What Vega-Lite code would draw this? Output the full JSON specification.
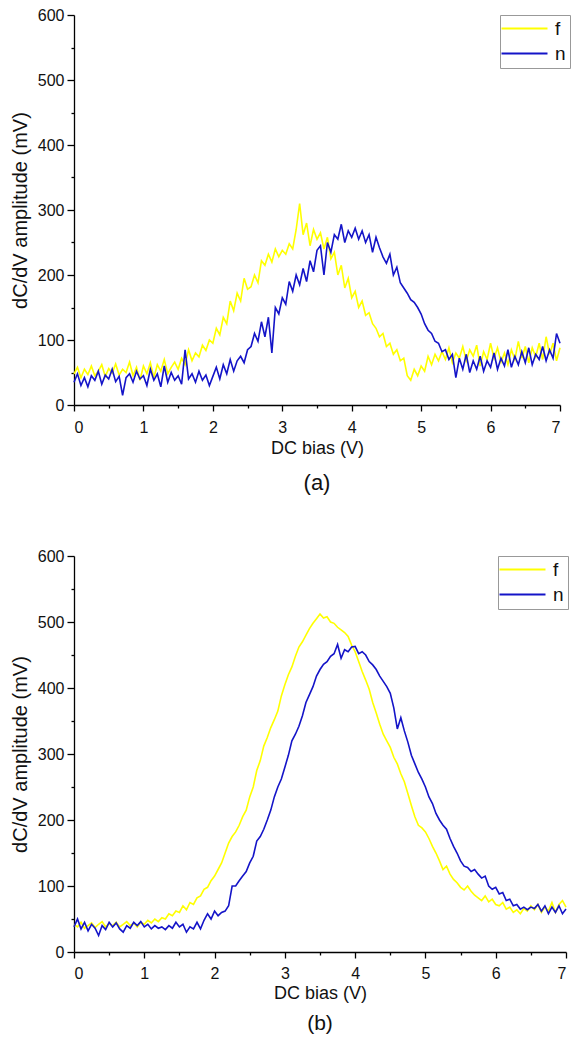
{
  "$schema": "https://vega.github.io/schema/vega-lite/v6.json",
  "padding": {"left": 10, "top": 7, "right": 0, "bottom": 0},
  "spacing": 54,
  "resolve": {"scale": {"color": "independent"}, "legend": {"color": "independent"}},
  "config": {
    "font": "Liberation Sans",
    "view": {"stroke": null},
    "axis": {
      "grid": false,
      "domainColor": "#000000",
      "domainWidth": 1.3,
      "tickColor": "#000000",
      "tickWidth": 1.3,
      "labelColor": "#111111",
      "labelFontSize": 16,
      "titleFontSize": 18,
      "titleFontWeight": "normal",
      "titleColor": "#111111"
    },
    "axisLeft": {"titleFontSize": 20},
    "title": {"fontSize": 22, "fontWeight": "normal", "color": "#111111"},
    "legend": {
      "orient": "none",
      "legendY": 0,
      "strokeColor": "#999999",
      "fillColor": "#ffffff",
      "padding": 4,
      "symbolType": "M-3,0H3",
      "symbolSize": 235,
      "symbolStrokeWidth": 2,
      "symbolOffset": 11,
      "labelOffset": 21,
      "labelFontSize": 19,
      "labelColor": "#111111",
      "rowPadding": 5
    }
  },
  "datasets": {
    "a": [
      {"v":0.00,"f":48,"n":35},{"v":0.05,"f":58,"n":48},{"v":0.10,"f":42,"n":30},{"v":0.15,"f":55,"n":42},{"v":0.20,"f":47,"n":28},
      {"v":0.25,"f":60,"n":45},{"v":0.30,"f":45,"n":38},{"v":0.35,"f":52,"n":52},{"v":0.40,"f":62,"n":32},{"v":0.45,"f":44,"n":46},
      {"v":0.50,"f":56,"n":40},{"v":0.55,"f":49,"n":55},{"v":0.60,"f":63,"n":36},{"v":0.65,"f":46,"n":44},{"v":0.70,"f":55,"n":15},
      {"v":0.75,"f":50,"n":42},{"v":0.80,"f":66,"n":48},{"v":0.85,"f":45,"n":35},{"v":0.90,"f":58,"n":52},{"v":0.95,"f":38,"n":40},
      {"v":1.00,"f":60,"n":45},{"v":1.05,"f":48,"n":30},{"v":1.10,"f":65,"n":55},{"v":1.15,"f":42,"n":38},{"v":1.20,"f":62,"n":48},
      {"v":1.25,"f":52,"n":28},{"v":1.30,"f":70,"n":60},{"v":1.35,"f":48,"n":35},{"v":1.40,"f":58,"n":50},{"v":1.45,"f":66,"n":38},
      {"v":1.50,"f":55,"n":45},{"v":1.55,"f":72,"n":32},{"v":1.60,"f":62,"n":85},{"v":1.65,"f":85,"n":40},{"v":1.70,"f":68,"n":48},
      {"v":1.75,"f":80,"n":35},{"v":1.80,"f":74,"n":52},{"v":1.85,"f":92,"n":38},{"v":1.90,"f":84,"n":46},{"v":1.95,"f":100,"n":30},
      {"v":2.00,"f":95,"n":44},{"v":2.05,"f":118,"n":58},{"v":2.10,"f":108,"n":40},{"v":2.15,"f":135,"n":62},{"v":2.20,"f":125,"n":48},
      {"v":2.25,"f":160,"n":70},{"v":2.30,"f":145,"n":52},{"v":2.35,"f":172,"n":68},{"v":2.40,"f":160,"n":75},{"v":2.45,"f":195,"n":65},
      {"v":2.50,"f":178,"n":85},{"v":2.55,"f":182,"n":90},{"v":2.60,"f":200,"n":110},{"v":2.65,"f":188,"n":98},{"v":2.70,"f":222,"n":128},
      {"v":2.75,"f":215,"n":105},{"v":2.80,"f":232,"n":135},{"v":2.85,"f":220,"n":80},{"v":2.90,"f":240,"n":150},{"v":2.95,"f":228,"n":140},
      {"v":3.00,"f":238,"n":165},{"v":3.05,"f":232,"n":155},{"v":3.10,"f":248,"n":190},{"v":3.15,"f":240,"n":175},{"v":3.20,"f":270,"n":200},
      {"v":3.25,"f":310,"n":185},{"v":3.30,"f":262,"n":210},{"v":3.35,"f":280,"n":190},{"v":3.40,"f":245,"n":222},{"v":3.45,"f":270,"n":205},
      {"v":3.50,"f":255,"n":238},{"v":3.55,"f":265,"n":245},{"v":3.60,"f":240,"n":200},{"v":3.65,"f":258,"n":250},{"v":3.70,"f":225,"n":235},
      {"v":3.75,"f":235,"n":262},{"v":3.80,"f":200,"n":255},{"v":3.85,"f":215,"n":278},{"v":3.90,"f":180,"n":250},{"v":3.95,"f":195,"n":268},
      {"v":4.00,"f":165,"n":258},{"v":4.05,"f":175,"n":272},{"v":4.10,"f":150,"n":255},{"v":4.15,"f":160,"n":268},{"v":4.20,"f":138,"n":250},
      {"v":4.25,"f":142,"n":262},{"v":4.30,"f":125,"n":235},{"v":4.35,"f":118,"n":258},{"v":4.40,"f":105,"n":242},{"v":4.45,"f":110,"n":228},
      {"v":4.50,"f":90,"n":218},{"v":4.55,"f":95,"n":232},{"v":4.60,"f":78,"n":200},{"v":4.65,"f":85,"n":212},{"v":4.70,"f":68,"n":188},
      {"v":4.75,"f":72,"n":180},{"v":4.80,"f":45,"n":172},{"v":4.85,"f":38,"n":162},{"v":4.90,"f":55,"n":158},{"v":4.95,"f":45,"n":150},
      {"v":5.00,"f":60,"n":140},{"v":5.05,"f":52,"n":125},{"v":5.10,"f":75,"n":115},{"v":5.15,"f":62,"n":110},{"v":5.20,"f":78,"n":98},
      {"v":5.25,"f":68,"n":95},{"v":5.30,"f":82,"n":82},{"v":5.35,"f":70,"n":85},{"v":5.40,"f":88,"n":70},{"v":5.45,"f":65,"n":78},
      {"v":5.50,"f":80,"n":42},{"v":5.55,"f":72,"n":72},{"v":5.60,"f":90,"n":55},{"v":5.65,"f":68,"n":78},{"v":5.70,"f":85,"n":50},
      {"v":5.75,"f":75,"n":68},{"v":5.80,"f":92,"n":55},{"v":5.85,"f":60,"n":75},{"v":5.90,"f":82,"n":52},{"v":5.95,"f":70,"n":68},
      {"v":6.00,"f":95,"n":58},{"v":6.05,"f":72,"n":80},{"v":6.10,"f":88,"n":55},{"v":6.15,"f":66,"n":72},{"v":6.20,"f":80,"n":60},
      {"v":6.25,"f":62,"n":85},{"v":6.30,"f":85,"n":58},{"v":6.35,"f":70,"n":75},{"v":6.40,"f":98,"n":62},{"v":6.45,"f":72,"n":82},
      {"v":6.50,"f":90,"n":65},{"v":6.55,"f":65,"n":88},{"v":6.60,"f":88,"n":62},{"v":6.65,"f":74,"n":78},{"v":6.70,"f":95,"n":70},
      {"v":6.75,"f":70,"n":90},{"v":6.80,"f":105,"n":68},{"v":6.85,"f":78,"n":85},{"v":6.90,"f":95,"n":72},{"v":6.95,"f":68,"n":110},
      {"v":7.00,"f":88,"n":95}
    ],
    "b": [
      {"v":0.00,"f":42,"n":38},{"v":0.05,"f":38,"n":50},{"v":0.10,"f":45,"n":35},{"v":0.15,"f":36,"n":45},{"v":0.20,"f":40,"n":32},
      {"v":0.25,"f":44,"n":42},{"v":0.30,"f":37,"n":36},{"v":0.35,"f":42,"n":25},{"v":0.40,"f":46,"n":40},{"v":0.45,"f":38,"n":34},
      {"v":0.50,"f":43,"n":45},{"v":0.55,"f":40,"n":38},{"v":0.60,"f":45,"n":44},{"v":0.65,"f":38,"n":35},{"v":0.70,"f":42,"n":30},
      {"v":0.75,"f":46,"n":40},{"v":0.80,"f":40,"n":36},{"v":0.85,"f":44,"n":45},{"v":0.90,"f":38,"n":40},{"v":0.95,"f":45,"n":46},
      {"v":1.00,"f":42,"n":38},{"v":1.05,"f":48,"n":42},{"v":1.10,"f":44,"n":35},{"v":1.15,"f":50,"n":40},{"v":1.20,"f":46,"n":36},
      {"v":1.25,"f":52,"n":38},{"v":1.30,"f":50,"n":34},{"v":1.35,"f":58,"n":40},{"v":1.40,"f":55,"n":36},{"v":1.45,"f":62,"n":45},
      {"v":1.50,"f":60,"n":38},{"v":1.55,"f":70,"n":42},{"v":1.60,"f":64,"n":30},{"v":1.65,"f":75,"n":38},{"v":1.70,"f":72,"n":35},
      {"v":1.75,"f":82,"n":45},{"v":1.80,"f":85,"n":35},{"v":1.85,"f":95,"n":48},{"v":1.90,"f":98,"n":58},{"v":1.95,"f":108,"n":50},
      {"v":2.00,"f":115,"n":62},{"v":2.05,"f":125,"n":55},{"v":2.10,"f":135,"n":60},{"v":2.15,"f":150,"n":62},{"v":2.20,"f":165,"n":70},
      {"v":2.25,"f":175,"n":100},{"v":2.30,"f":182,"n":100},{"v":2.35,"f":192,"n":108},{"v":2.40,"f":205,"n":115},{"v":2.45,"f":215,"n":122},
      {"v":2.50,"f":235,"n":135},{"v":2.55,"f":250,"n":145},{"v":2.60,"f":275,"n":168},{"v":2.65,"f":290,"n":175},{"v":2.70,"f":312,"n":186},
      {"v":2.75,"f":325,"n":200},{"v":2.80,"f":340,"n":215},{"v":2.85,"f":352,"n":235},{"v":2.90,"f":365,"n":250},{"v":2.95,"f":388,"n":262},
      {"v":3.00,"f":405,"n":280},{"v":3.05,"f":420,"n":298},{"v":3.10,"f":432,"n":320},{"v":3.15,"f":448,"n":330},{"v":3.20,"f":462,"n":342},
      {"v":3.25,"f":470,"n":358},{"v":3.30,"f":480,"n":378},{"v":3.35,"f":490,"n":390},{"v":3.40,"f":498,"n":402},{"v":3.45,"f":505,"n":418},
      {"v":3.50,"f":512,"n":428},{"v":3.55,"f":506,"n":436},{"v":3.60,"f":508,"n":440},{"v":3.65,"f":500,"n":448},{"v":3.70,"f":498,"n":452},
      {"v":3.75,"f":492,"n":466},{"v":3.80,"f":488,"n":445},{"v":3.85,"f":484,"n":458},{"v":3.90,"f":478,"n":455},{"v":3.95,"f":465,"n":462},
      {"v":4.00,"f":455,"n":463},{"v":4.05,"f":440,"n":452},{"v":4.10,"f":425,"n":455},{"v":4.15,"f":412,"n":450},{"v":4.20,"f":398,"n":440},
      {"v":4.25,"f":378,"n":435},{"v":4.30,"f":362,"n":428},{"v":4.35,"f":345,"n":418},{"v":4.40,"f":330,"n":410},{"v":4.45,"f":320,"n":402},
      {"v":4.50,"f":310,"n":392},{"v":4.55,"f":295,"n":370},{"v":4.60,"f":285,"n":338},{"v":4.65,"f":270,"n":355},{"v":4.70,"f":258,"n":335},
      {"v":4.75,"f":240,"n":318},{"v":4.80,"f":222,"n":298},{"v":4.85,"f":205,"n":285},{"v":4.90,"f":192,"n":272},{"v":4.95,"f":188,"n":262},
      {"v":5.00,"f":182,"n":250},{"v":5.05,"f":172,"n":235},{"v":5.10,"f":160,"n":225},{"v":5.15,"f":150,"n":210},{"v":5.20,"f":138,"n":200},
      {"v":5.25,"f":125,"n":192},{"v":5.30,"f":130,"n":186},{"v":5.35,"f":118,"n":172},{"v":5.40,"f":110,"n":160},{"v":5.45,"f":105,"n":150},
      {"v":5.50,"f":98,"n":138},{"v":5.55,"f":94,"n":130},{"v":5.60,"f":100,"n":128},{"v":5.65,"f":92,"n":122},{"v":5.70,"f":86,"n":125},
      {"v":5.75,"f":82,"n":118},{"v":5.80,"f":78,"n":112},{"v":5.85,"f":85,"n":115},{"v":5.90,"f":76,"n":100},{"v":5.95,"f":80,"n":95},
      {"v":6.00,"f":72,"n":98},{"v":6.05,"f":70,"n":88},{"v":6.10,"f":75,"n":90},{"v":6.15,"f":65,"n":78},{"v":6.20,"f":68,"n":80},
      {"v":6.25,"f":60,"n":70},{"v":6.30,"f":64,"n":72},{"v":6.35,"f":58,"n":65},{"v":6.40,"f":66,"n":68},{"v":6.45,"f":62,"n":64},
      {"v":6.50,"f":70,"n":68},{"v":6.55,"f":64,"n":66},{"v":6.60,"f":72,"n":72},{"v":6.65,"f":60,"n":62},{"v":6.70,"f":68,"n":70},
      {"v":6.75,"f":62,"n":58},{"v":6.80,"f":75,"n":68},{"v":6.85,"f":60,"n":60},{"v":6.90,"f":72,"n":70},{"v":6.95,"f":78,"n":58},
      {"v":7.00,"f":68,"n":65}
    ]
  },
  "vconcat": [
    {
      "width": 486,
      "height": 390,
      "data": {"name": "a"},
      "transform": [{"fold": ["f", "n"], "as": ["s", "y"]}],
      "title": {"text": "(a)", "orient": "bottom", "offset": 16},
      "layer": [
        {
          "mark": {"type": "line", "opacity": 0},
          "encoding": {
            "x": {
              "field": "v", "type": "quantitative",
              "scale": {"domain": [0, 7], "nice": false},
              "axis": {"orient": "bottom", "values": [0.5,1.5,2.5,3.5,4.5,5.5,6.5], "labels": false, "domain": false, "title": null, "tickSize": 3}
            },
            "y": {
              "field": "y", "type": "quantitative",
              "scale": {"domain": [0, 600], "nice": false},
              "axis": {"orient": "left", "values": [50,150,250,350,450,550], "labels": false, "domain": false, "title": null, "tickSize": 3}
            }
          }
        },
        {
          "mark": {"type": "line", "strokeWidth": 1.6},
          "encoding": {
            "x": {
              "field": "v", "type": "quantitative",
              "axis": {"orient": "bottom", "title": "DC bias (V)", "values": [0,1,2,3,4,5,6,7], "format": "d", "tickSize": 6, "labelPadding": 8, "titlePadding": 4}
            },
            "y": {
              "field": "y", "type": "quantitative",
              "axis": {"orient": "left", "title": "dC/dV amplitude (mV)", "values": [0,100,200,300,400,500,600], "tickSize": 7, "labelPadding": 3, "titlePadding": 7}
            },
            "color": {
              "field": "s", "type": "nominal",
              "scale": {"domain": ["f", "n"], "range": ["#ffff00", "#1414c8"]},
              "legend": {"title": null, "legendX": 426}
            }
          }
        }
      ],
      "resolve": {"axis": {"x": "independent", "y": "independent"}}
    },
    {
      "width": 492,
      "height": 396,
      "data": {"name": "b"},
      "transform": [{"fold": ["f", "n"], "as": ["s", "y"]}],
      "title": {"text": "(b)", "orient": "bottom", "offset": 11, "fontSize": 21},
      "layer": [
        {
          "mark": {"type": "line", "opacity": 0},
          "encoding": {
            "x": {
              "field": "v", "type": "quantitative",
              "scale": {"domain": [0, 7], "nice": false},
              "axis": {"orient": "bottom", "values": [0.5,1.5,2.5,3.5,4.5,5.5,6.5], "labels": false, "domain": false, "title": null, "tickSize": 3}
            },
            "y": {
              "field": "y", "type": "quantitative",
              "scale": {"domain": [0, 600], "nice": false},
              "axis": {"orient": "left", "values": [50,150,250,350,450,550], "labels": false, "domain": false, "title": null, "tickSize": 3}
            }
          }
        },
        {
          "mark": {"type": "line", "strokeWidth": 1.6},
          "encoding": {
            "x": {
              "field": "v", "type": "quantitative",
              "axis": {"orient": "bottom", "title": "DC bias (V)", "values": [0,1,2,3,4,5,6,7], "format": "d", "tickSize": 6, "labelPadding": 7, "titlePadding": 3}
            },
            "y": {
              "field": "y", "type": "quantitative",
              "axis": {"orient": "left", "title": "dC/dV amplitude (mV)", "values": [0,100,200,300,400,500,600], "tickSize": 7, "labelPadding": 3, "titlePadding": 7}
            },
            "color": {
              "field": "s", "type": "nominal",
              "scale": {"domain": ["f", "n"], "range": ["#ffff00", "#1414c8"]},
              "legend": {"title": null, "legendX": 424}
            }
          }
        }
      ],
      "resolve": {"axis": {"x": "independent", "y": "independent"}}
    }
  ]
}
